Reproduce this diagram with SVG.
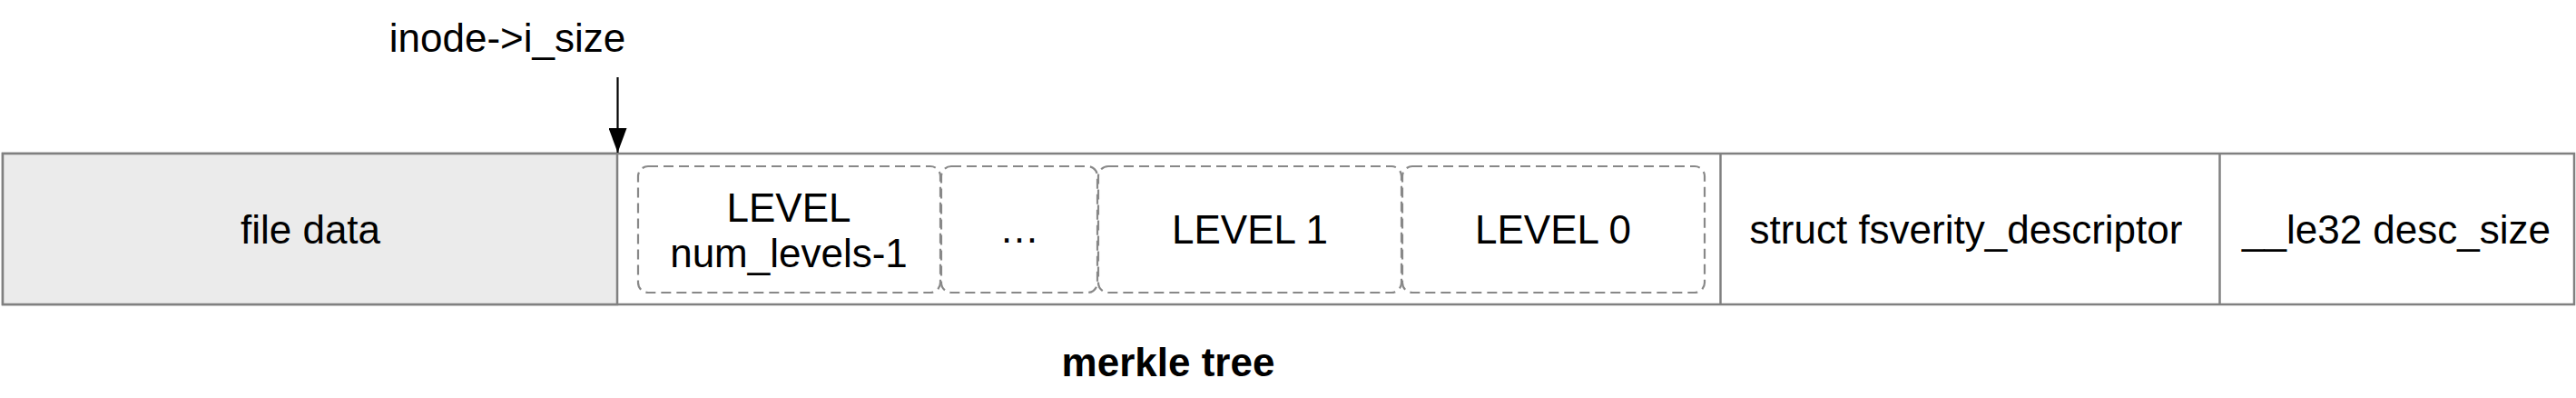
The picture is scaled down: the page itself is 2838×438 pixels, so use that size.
<svg xmlns="http://www.w3.org/2000/svg" width="2838" height="438" viewBox="0 0 2838 438">
<defs>
<style>
.t{font-family:"Liberation Sans",Arial,Helvetica,sans-serif;font-size:44px;fill:#000;text-anchor:middle}
.b{font-weight:bold}
.seg{fill:#fff;stroke:#808080;stroke-width:2.5}
.div{stroke:#808080;stroke-width:2.5}
.lvl{fill:none;stroke:#888;stroke-width:2.2;stroke-dasharray:11 6}
</style>
<marker id="ah" viewBox="0 0 27 20" refX="27" refY="10" markerWidth="27" markerHeight="20" markerUnits="userSpaceOnUse" orient="auto">
<path d="M0,0 L27,10 L0,20 Z" fill="#000"/>
</marker>
</defs>
<rect width="2838" height="438" fill="#fff"/>
<g id="outer">
<rect class="seg" x="3" y="169" width="2833" height="166"/>
</g>
<g id="file-data">
<rect x="3" y="169" width="677" height="166" fill="#ebebeb" stroke="#808080" stroke-width="2.5"/>
<text class="t" x="342" y="268">file data</text>
</g>
<g id="level-top">
<rect class="lvl" x="703" y="183" width="333" height="139" rx="11"/>
<text class="t" x="869" y="244">LEVEL</text>
<text class="t" x="869" y="294">num_levels-1</text>
</g>
<g id="level-ellipsis">
<rect class="lvl" x="1037" y="183" width="172" height="139" rx="11"/>
<text class="t" x="1123" y="267">…</text>
</g>
<g id="level-1">
<rect class="lvl" x="1210" y="183" width="334" height="139" rx="11"/>
<text class="t" x="1377" y="268">LEVEL 1</text>
</g>
<g id="level-0">
<rect class="lvl" x="1545" y="183" width="333" height="139" rx="11"/>
<text class="t" x="1711" y="268">LEVEL 0</text>
</g>
<g id="descriptor">
<line class="div" x1="1895.5" y1="169" x2="1895.5" y2="335"/>
<text class="t" x="2166" y="268">struct fsverity_descriptor</text>
</g>
<g id="desc-size">
<line class="div" x1="2445.5" y1="169" x2="2445.5" y2="335"/>
<text class="t" x="2640" y="268">__le32 desc_size</text>
</g>
<g id="isize-label">
<text class="t" x="559" y="57">inode-&gt;i_size</text>
</g>
<g id="merkle-label">
<text class="t b" x="1287" y="414">merkle tree</text>
</g>
<g id="connectors">
<line x1="680.5" y1="85" x2="680.5" y2="168" stroke="#000" stroke-width="2.2" marker-end="url(#ah)"/>
</g>
</svg>
